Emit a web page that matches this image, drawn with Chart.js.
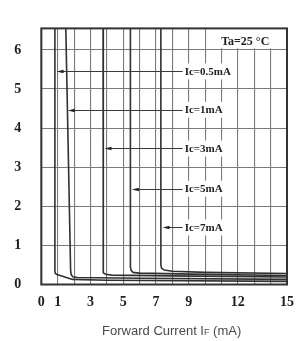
<!DOCTYPE html>
<html><head><meta charset="utf-8">
<script src="https://cdn.jsdelivr.net/npm/chart.js@4"></script>
<style>html,body{margin:0;padding:0;background:#fff}#wrap{width:303px;height:341px}</style>
</head><body><div id="wrap"><canvas id="c" width="303" height="341"></canvas></div>
<script>
// ---- data ----
const xTickLabels = [0, 1, 3, 5, 7, 9, 12, 15];
const yTickLabels = [0, 1, 2, 3, 4, 5, 6];
const seriesNames = ['Ic=0.5mA', 'Ic=1mA', 'Ic=3mA', 'Ic=5mA', 'Ic=7mA'];

const if05 = [0.83, 0.83, 0.85, 0.92, 1.9, 4, 15];
const vf05 = [6.7, 0.34, 0.29, 0.26, 0.13, 0.11, 0.08];
const if1 = [1.49, 1.79, 1.82, 1.92, 2.2, 6, 15];
const vf1 = [6.7, 0.36, 0.26, 0.2, 0.18, 0.16, 0.13];
const if3 = [3.77, 3.77, 3.8, 3.92, 4.3, 8, 15];
const vf3 = [6.7, 0.38, 0.3, 0.26, 0.24, 0.22, 0.19];
const if5 = [5.44, 5.44, 5.48, 5.6, 6, 10, 15];
const vf5 = [6.7, 0.45, 0.36, 0.31, 0.29, 0.26, 0.23];
const if7 = [7.3, 7.3, 7.34, 7.5, 8, 10, 15];
const vf7 = [6.7, 0.5, 0.42, 0.37, 0.34, 0.31, 0.28];

const labelY = [5.45, 4.47, 3.48, 2.45, 1.46];
const arrowTipX = [0.93, 1.62, 3.86, 5.53, 7.40];
const labelLeftX = 8.75;
const condText = 'Ta=25 \u00B0C';
const axisTitle = ['Forward Current I', 'F', ' (mA)'];

const curvesX = [if05, if1, if3, if5, if7];
const curvesY = [vf05, vf1, vf3, vf5, vf7];

const datasets = seriesNames.map((n, i) => ({
  label: n,
  data: curvesX[i].map((x, j) => ({ x: x, y: curvesY[i][j] })),
  borderColor: '#303030',
  borderWidth: 1.6,
  pointRadius: 0,
  tension: 0,
  fill: false
}));

const overlay = {
  id: 'overlay',
  afterDatasetsDraw(chart) {
    const ctx = chart.ctx, xs = chart.scales.x, ys = chart.scales.y, a = chart.chartArea;
    ctx.save();
    const bx0 = xs.getPixelForValue(8.65), bx1 = xs.getPixelForValue(11.4);
    ctx.font = 'bold 11px "Liberation Serif"';
    ctx.textBaseline = 'middle';
    ctx.textAlign = 'left';
    seriesNames.forEach((n, i) => {
      const y = ys.getPixelForValue(labelY[i]);
      ctx.fillStyle = '#fff';
      ctx.fillRect(bx0, y - 8, bx1 - bx0, 16);
      const lx = xs.getPixelForValue(labelLeftX);
      const tx = xs.getPixelForValue(arrowTipX[i]);
      ctx.strokeStyle = '#3a3a3a';
      ctx.lineWidth = 1;
      ctx.beginPath();
      ctx.moveTo(lx - 2, Math.round(y) + 0.5);
      ctx.lineTo(tx + 3, Math.round(y) + 0.5);
      ctx.stroke();
      ctx.fillStyle = '#222';
      ctx.beginPath();
      ctx.moveTo(tx, Math.round(y) + 0.5);
      ctx.lineTo(tx + 7, Math.round(y) - 1.3);
      ctx.lineTo(tx + 7, Math.round(y) + 2.3);
      ctx.closePath();
      ctx.fill();
      ctx.fillStyle = '#1e1e1e';
      ctx.fillText(n, lx, y + 0.5);
    });
    const cx0 = xs.getPixelForValue(10.1);
    const cy1 = ys.getPixelForValue(6.04);
    ctx.fillStyle = '#fff';
    ctx.fillRect(cx0, a.top, a.right - cx0, cy1 - a.top);
    ctx.fillStyle = '#1e1e1e';
    ctx.font = 'bold 12px "Liberation Serif"';
    ctx.textAlign = 'center';
    ctx.fillText(condText, xs.getPixelForValue(12.45), ys.getPixelForValue(6.21));
    ctx.strokeStyle = '#333';
    ctx.lineWidth = 2;
    ctx.strokeRect(a.left, a.top, a.right - a.left, a.bottom - a.top);
    const big = '13px "Liberation Sans"', small = '9px "Liberation Sans"';
    ctx.font = big; const w0 = ctx.measureText(axisTitle[0]).width;
    const w2 = ctx.measureText(axisTitle[2]).width;
    ctx.font = small; const w1 = ctx.measureText(axisTitle[1]).width;
    const total = w0 + w1 + w2;
    let sx = xs.getPixelForValue(7.96) - total / 2;
    const ty = 330;
    ctx.fillStyle = '#4a4a4a';
    ctx.textAlign = 'left';
    ctx.textBaseline = 'alphabetic';
    ctx.font = big; ctx.fillText(axisTitle[0], sx, ty + 4.5); sx += w0;
    ctx.font = small; ctx.fillText(axisTitle[1], sx, ty + 4.5); sx += w1;
    ctx.font = big; ctx.fillText(axisTitle[2], sx, ty + 4.5);
    ctx.restore();
  }
};

new Chart(document.getElementById('c'), {
  type: 'line',
  data: { datasets: datasets },
  plugins: [overlay],
  options: {
    responsive: false,
    animation: false,
    devicePixelRatio: 1,
    layout: { padding: { top: 5, right: 10, left: 0, bottom: 0 } },
    plugins: { legend: { display: false }, tooltip: { enabled: false } },
    scales: {
      x: {
        type: 'linear', min: 0, max: 15,
        afterFit(s) { s.height = 56.5; },
        border: { display: false },
        grid: { color: '#7a7a7a', lineWidth: 1.1, drawTicks: false },
        ticks: {
          stepSize: 1, autoSkip: false, maxRotation: 0, padding: 9,
          color: '#1e1e1e',
          font: { family: 'Liberation Serif', weight: 'bold', size: 14 },
          callback: v => xTickLabels.includes(v) ? String(v) : ''
        }
      },
      y: {
        type: 'linear', min: 0, max: 6.55,
        afterFit(s) { s.width = 41.3; },
        border: { display: false },
        grid: { color: '#7a7a7a', lineWidth: 1.1, drawTicks: false },
        ticks: {
          stepSize: 1, autoSkip: false, padding: 20,
          color: '#1e1e1e',
          font: { family: 'Liberation Serif', weight: 'bold', size: 14 },
          callback: v => yTickLabels.includes(v) ? String(v) : ''
        }
      }
    }
  }
});
</script></body></html>
